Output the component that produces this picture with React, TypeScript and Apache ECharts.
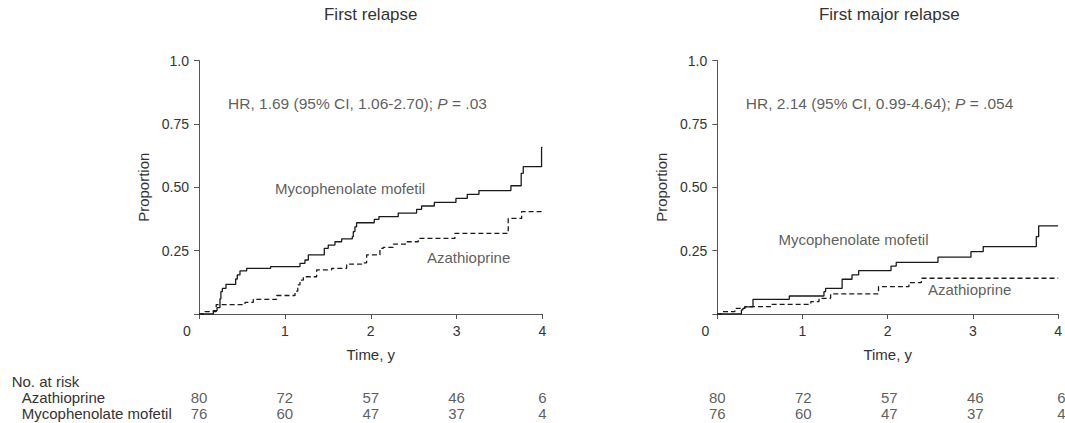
import React, { useEffect, useRef } from "react";
import * as echarts from "echarts";

// ---------- data ----------
const yearTicks = [0, 1, 2, 3, 4];
const rowNames = ["Mycophenolate mofetil", "Azathioprine"];

const riskAzaRelapse = [80, 72, 57, 46, 6];
const riskMmfRelapse = [76, 60, 47, 37, 4];
const riskAzaMajor = [80, 72, 57, 46, 6];
const riskMmfMajor = [76, 60, 47, 37, 4];

// First relapse – mycophenolate mofetil (solid)
const relMmfT = [0, 0.167, 0.21, 0.244, 0.255, 0.272, 0.314, 0.427, 0.446, 0.477, 0.555, 0.834, 1.176, 1.234, 1.273, 1.459, 1.505, 1.583, 1.661, 1.785, 1.797, 1.816, 1.835, 2.041, 2.095, 2.32, 2.534, 2.592, 2.74, 2.992, 3.124, 3.26, 3.632, 3.752, 3.776, 3.989, 4.0];
const relMmfP = [0, 0.013, 0.025, 0.06, 0.088, 0.101, 0.117, 0.138, 0.154, 0.17, 0.18, 0.187, 0.2, 0.213, 0.233, 0.259, 0.272, 0.285, 0.296, 0.305, 0.325, 0.344, 0.36, 0.373, 0.384, 0.398, 0.413, 0.426, 0.44, 0.456, 0.472, 0.487, 0.506, 0.555, 0.581, 0.657, 0.657];

// First relapse – azathioprine (dashed)
const relAzaT = [0, 0.07, 0.2, 0.536, 0.632, 0.904, 1.118, 1.15, 1.176, 1.215, 1.37, 1.545, 1.719, 1.894, 1.952, 2.107, 2.146, 2.262, 2.418, 2.553, 2.98, 3.601, 3.757, 4.0];
const relAzaP = [0, 0.009, 0.037, 0.046, 0.058, 0.073, 0.09, 0.115, 0.134, 0.147, 0.174, 0.18, 0.197, 0.202, 0.233, 0.259, 0.263, 0.276, 0.285, 0.298, 0.318, 0.377, 0.404, 0.404];

// First major relapse – mycophenolate mofetil (solid)
const majMmfT = [0, 0.283, 0.3, 0.322, 0.419, 0.845, 1.252, 1.271, 1.465, 1.581, 1.659, 2.039, 2.1, 2.59, 2.977, 3.121, 3.744, 3.772, 4.0];
const majMmfP = [0, 0.016, 0.022, 0.028, 0.058, 0.071, 0.088, 0.101, 0.137, 0.154, 0.171, 0.189, 0.204, 0.224, 0.246, 0.266, 0.305, 0.348, 0.348];

// First major relapse – azathioprine (dashed)
const majAzaT = [0, 0.05, 0.206, 0.322, 0.632, 1.098, 1.194, 1.33, 1.892, 2.249, 2.395, 4.0];
const majAzaP = [0, 0.009, 0.022, 0.029, 0.038, 0.049, 0.062, 0.079, 0.108, 0.124, 0.141, 0.141];

const panelTitles = ["First relapse", "First major relapse"];
const hrTexts = [
  "HR, 1.69 (95% CI, 1.06-2.70); {i|P} = .03",
  "HR, 2.14 (95% CI, 0.99-4.64); {i|P} = .054",
];
// annotation anchor points (time, proportion)
const hrPos = [[0.338, 0.831], [0.334, 0.831]];
const mmfLabelPos = [[0.885, 0.497], [0.717, 0.292]];
const azaLabelPos = [[2.654, 0.221], [2.473, 0.095]];

// ---------- helpers ----------
const zip = (t: number[], p: number[]) => t.map((v, i) => [v, p[i]]);
const FONT = "Liberation Sans, Arial, Helvetica, sans-serif";
const TXT = "#333";
const AX = "#555";

export default function App() {
  const ref = useRef<HTMLDivElement>(null);
  useEffect(() => {
    if (!ref.current) return;
    const chart = echarts.init(ref.current, undefined, { renderer: "svg" });

    const grids = [
      { left: 199, top: 60.5, width: 343.5, height: 253.5 },
      { left: 717.3, top: 60.5, width: 344, height: 253.5 },
      { left: 199, top: 389.5, width: 343.5, height: 32 },
      { left: 717.3, top: 389.5, width: 344, height: 32 },
    ];

    const mainX = (gi: number) => ({
      type: "value",
      gridIndex: gi,
      min: 0,
      max: 4,
      interval: 1,
      name: "Time, y",
      nameLocation: "middle",
      nameGap: 33,
      nameTextStyle: { fontFamily: FONT, fontSize: 15, color: TXT },
      axisLine: { lineStyle: { color: AX, width: 1 } },
      axisTick: { length: 5, lineStyle: { color: AX } },
      splitLine: { show: false },
      axisLabel: {
        margin: 10,
        fontFamily: FONT,
        fontSize: 14,
        color: TXT,
        formatter: (v: number) => (v === 0 ? "{z|0}" : String(v)),
        rich: { z: { fontFamily: FONT, fontSize: 14, color: TXT, padding: [0, 24, 0, 0] } },
      },
    });
    const mainY = (gi: number) => ({
      type: "value",
      gridIndex: gi,
      min: 0,
      max: 1,
      interval: 0.25,
      name: "Proportion",
      nameLocation: "middle",
      nameGap: 48,
      nameTextStyle: { fontFamily: FONT, fontSize: 15, color: TXT },
      axisLine: { show: true, lineStyle: { color: AX, width: 1 } },
      axisTick: { show: true, length: 5, lineStyle: { color: AX } },
      splitLine: { show: false },
      axisLabel: {
        margin: 10,
        fontFamily: FONT,
        fontSize: 14,
        color: TXT,
        formatter: (v: number) => (v === 0 ? "" : v === 1 ? "1.0" : v.toFixed(2)),
      },
    });

    const riskX = (gi: number) => ({ type: "value", gridIndex: gi, min: 0, max: 4, show: false });
    const riskY = (gi: number, showLabels: boolean) => ({
      type: "category",
      gridIndex: gi,
      data: rowNames,
      axisLine: { show: false },
      axisTick: { show: false },
      splitLine: { show: false },
      axisLabel: {
        show: showLabels,
        interval: 0,
        align: "left",
        margin: 177.3,
        fontFamily: FONT,
        fontSize: 15,
        color: TXT,
      },
    });

    const stepSeries = (gi: number, data: number[][], dashed: boolean) => ({
      type: "line",
      xAxisIndex: gi,
      yAxisIndex: gi,
      step: "end",
      data,
      symbol: "none",
      silent: true,
      lineStyle: { color: "#1a1a1a", width: 1.3, type: dashed ? [5, 3] : "solid" },
    });

    const annoSeries = (gi: number) => ({
      type: "scatter",
      xAxisIndex: gi,
      yAxisIndex: gi,
      symbolSize: 1,
      silent: true,
      itemStyle: { color: "transparent" },
      label: {
        show: true,
        position: "inside",
        align: "left",
        verticalAlign: "middle",
        fontFamily: FONT,
        fontSize: 15,
        color: TXT,
      },
      data: [
        {
          value: hrPos[gi],
          label: {
            formatter: hrTexts[gi],
            fontSize: 15.5,
            rich: { i: { fontFamily: FONT, fontSize: 15.5, color: TXT, fontStyle: "italic" } },
          },
        },
        { value: mmfLabelPos[gi], label: { formatter: "Mycophenolate mofetil" } },
        { value: azaLabelPos[gi], label: { formatter: "Azathioprine" } },
      ],
    });

    const riskSeries = (gi: number, aza: number[], mmf: number[]) => ({
      type: "scatter",
      xAxisIndex: gi,
      yAxisIndex: gi,
      symbolSize: 1,
      silent: true,
      itemStyle: { color: "transparent" },
      label: {
        show: true,
        position: "inside",
        align: "center",
        verticalAlign: "middle",
        fontFamily: FONT,
        fontSize: 15,
        color: TXT,
        formatter: (p: any) => String(p.value[2]),
      },
      data: [
        ...yearTicks.map((t, i) => [t, "Azathioprine", aza[i]]),
        ...yearTicks.map((t, i) => [t, "Mycophenolate mofetil", mmf[i]]),
      ],
    });

    chart.setOption({
      animation: false,
      backgroundColor: "#fff",
      textStyle: { fontFamily: FONT },
      grid: grids,
      xAxis: [mainX(0), mainX(1), riskX(2), riskX(3)],
      yAxis: [mainY(0), mainY(1), riskY(2, true), riskY(3, false)],
      graphic: [
        {
          type: "text",
          x: 199 + 343.5 / 2,
          y: 14,
          style: { text: panelTitles[0], fontFamily: FONT, fontSize: 17, fill: TXT, align: "center", verticalAlign: "middle" },
        },
        {
          type: "text",
          x: 717.3 + 172,
          y: 14,
          style: { text: panelTitles[1], fontFamily: FONT, fontSize: 17, fill: TXT, align: "center", verticalAlign: "middle" },
        },
        {
          type: "text",
          x: 11.7,
          y: 381,
          style: { text: "No. at risk", fontFamily: FONT, fontSize: 15, fill: TXT, align: "left", verticalAlign: "middle" },
        },
      ],
      series: [
        stepSeries(0, zip(relAzaT, relAzaP), true),
        stepSeries(0, zip(relMmfT, relMmfP), false),
        stepSeries(1, zip(majAzaT, majAzaP), true),
        stepSeries(1, zip(majMmfT, majMmfP), false),
        annoSeries(0),
        annoSeries(1),
        riskSeries(2, riskAzaRelapse, riskMmfRelapse),
        riskSeries(3, riskAzaMajor, riskMmfMajor),
      ],
    });
    return () => chart.dispose();
  }, []);

  return (
    <div
      ref={ref}
      style={{ position: "absolute", left: 0, top: 0, width: 1065, height: 423, background: "#fff" }}
    />
  );
}
